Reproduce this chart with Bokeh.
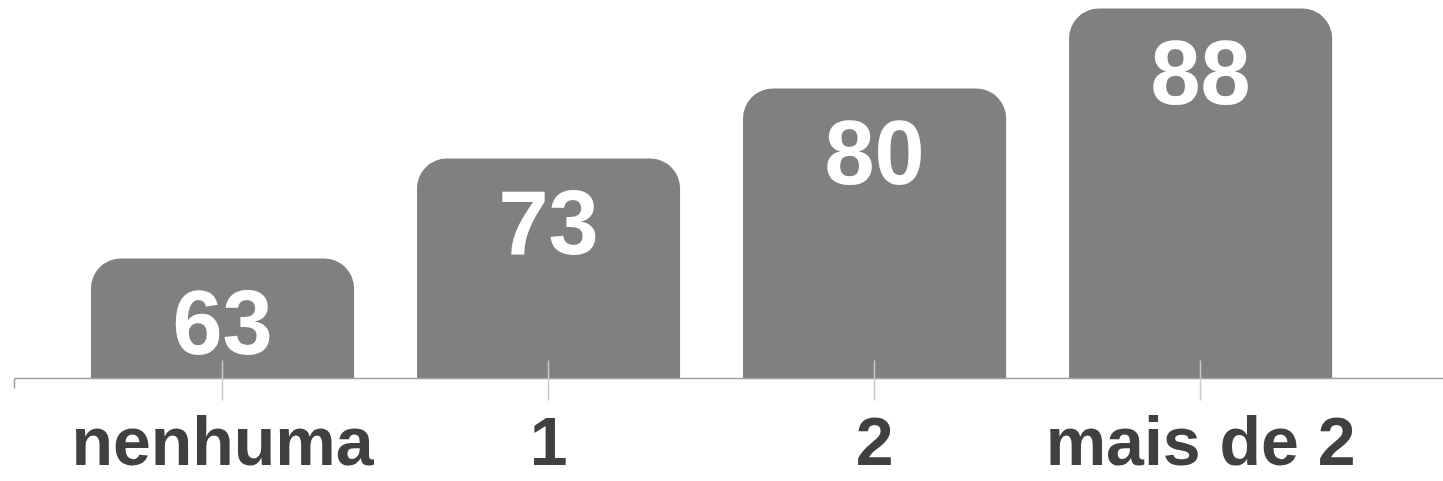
from bokeh.plotting import figure
from bokeh.models import ColumnDataSource, Range1d, FixedTicker
from bokeh.core.properties import value
from bokeh.embed import file_html
from bokeh.resources import INLINE

categories = ["nenhuma", "1", "2", "mais de 2"]
values = [63, 73, 80, 88]

xs = list(range(len(categories)))
src = ColumnDataSource(dict(x=xs, v=values, lbl=[str(v) for v in values]))

p = figure(width=1443, height=481, output_backend="svg", toolbar_location=None,
           x_range=Range1d(-0.638, 3.745), y_range=Range1d(51.0, 88.8),
           min_border_left=14, min_border_right=0, min_border_top=0, min_border_bottom=0)
p.outline_line_color = None
p.grid.visible = False
p.yaxis.visible = False
p.background_fill_color = "white"
p.border_fill_color = "white"

p.vbar(x="x", top="v", bottom=40, width=0.807, source=src,
       fill_color="#808080", line_color=None, border_radius=(30, 30, 0, 0))

p.text(x="x", y="v", text="lbl", source=src, y_offset=64,
       text_align="center", text_baseline="alphabetic",
       text_font=value("Liberation Sans"), text_font_style="bold",
       text_font_size="90px", text_color="white")

ax = p.xaxis[0]
ax.ticker = FixedTicker(ticks=xs, minor_ticks=[-0.638])
ax.major_label_overrides = {i: c for i, c in zip(xs, categories)}
ax.axis_line_color = "#a0a0a0"
ax.axis_line_width = 1.5
ax.major_tick_line_color = "#c8c8c8"
ax.major_tick_line_width = 1.5
ax.major_tick_in = 18
ax.major_tick_out = 22
ax.minor_tick_line_color = "#a0a0a0"
ax.minor_tick_line_width = 1.5
ax.minor_tick_in = 0
ax.minor_tick_out = 10
ax.major_label_text_font = "Liberation Sans"
ax.major_label_text_font_style = "bold"
ax.major_label_text_font_size = "68px"
ax.major_label_text_color = "#404040"
ax.major_label_standoff = 2

open("out.html", "w").write(file_html(p, INLINE))
